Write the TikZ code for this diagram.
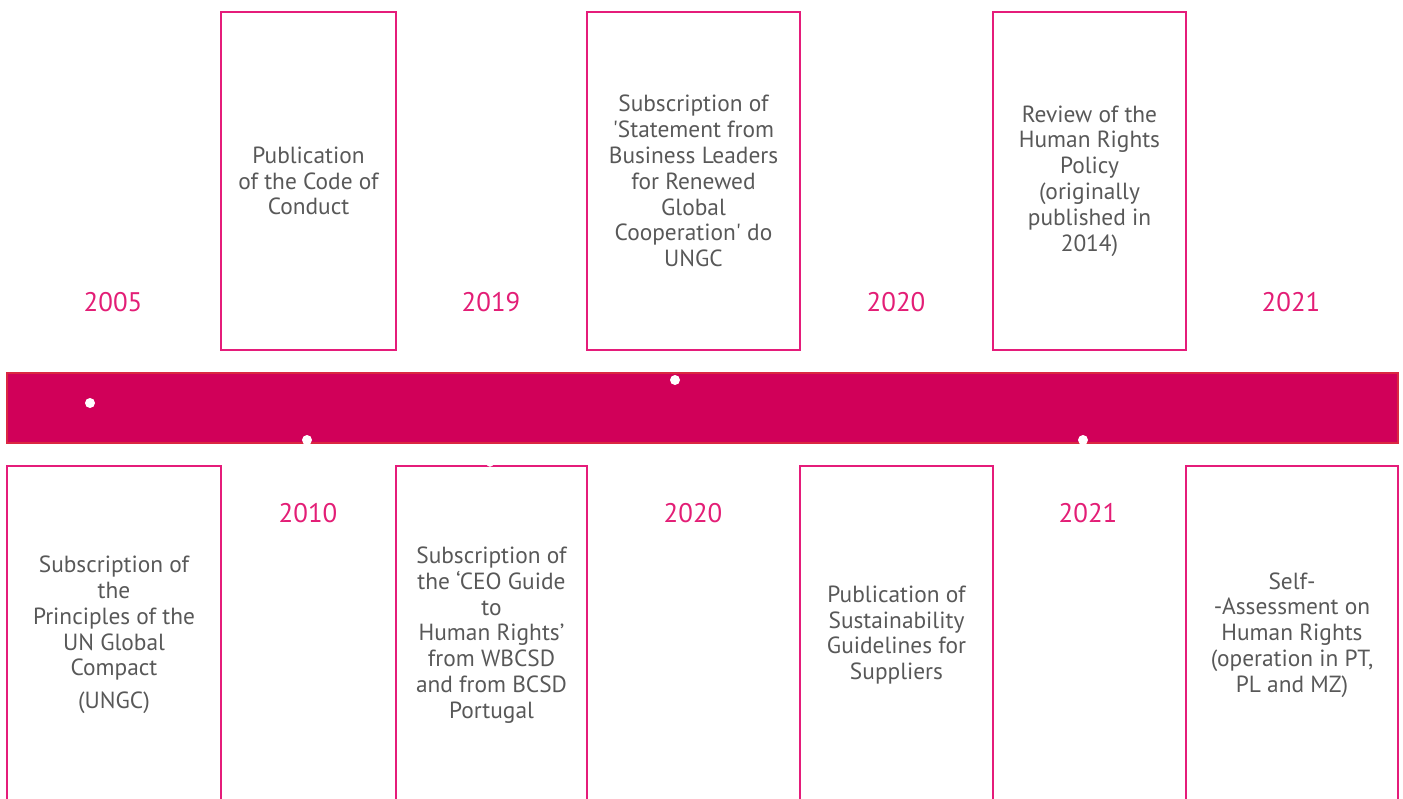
\documentclass[tikz,border=0pt]{standalone}
\usepackage{fontspec}
\setmainfont{PT Sans}
\usepackage{tikz}
\usetikzlibrary{positioning}
\definecolor{band}{RGB}{209,0,89}
\definecolor{bandedge}{RGB}{218,40,66}
\definecolor{frame}{RGB}{229,28,122}
\definecolor{yearpink}{RGB}{227,30,118}
\definecolor{txtgray}{RGB}{88,88,88}

\begin{document}
\begin{tikzpicture}[x=0.02cm, y=-0.02cm,
  every node/.style={font=\fontsize{13.3}{14.7}\selectfont, text=txtgray},
  event/.style={draw=frame, line width=1.4pt, align=center, minimum height=6.76cm, inner sep=0pt},
  year/.style={text=yearpink, font=\fontsize{15.3}{17}\selectfont},
  dot/.style={circle, fill=white, inner sep=0pt, minimum size=0.2cm}]
\useasboundingbox (0,0) rectangle (1403,798);
\clip (0,0) rectangle (1403,798);
% timeline band
\draw[fill=band, draw=bandedge, line width=1.1pt] (7,373) rectangle (1398,443);
\node[dot] (d2005) at (90,403) {};
\node[dot] (d2010) at (307,440) {};
\node[dot] (d2019) at (675,380) {};
\node[dot] (d2021) at (1083,440) {};
% top row
\node[event, minimum width=3.5cm] (code) at (308.5,181) {Publication\\of the Code of\\Conduct};
\node[event, minimum width=4.26cm] (statement) at (693.5,181) {Subscription of\\\textquotesingle Statement from\\Business Leaders\\for Renewed\\Global\\Cooperation\textquotesingle{} do\\UNGC};
\node[event, minimum width=3.86cm] (policy) at (1089.5,181) {Review of the\\Human Rights\\Policy\\(originally\\published in\\2014)};
% bottom row
\node[event, minimum width=4.28cm] (ungc) at (114,635) {Subscription of\\the\\Principles of the\\UN Global\\Compact\\[4pt](UNGC)};
\node[event, minimum width=3.82cm] (ceo) at (491.5,635) {Subscription of\\the ‘CEO Guide\\to\\Human Rights’\\from WBCSD\\and from BCSD\\Portugal};
\node[event, minimum width=3.86cm] (guide) at (896.5,635) {Publication of\\Sustainability\\Guidelines for\\Suppliers};
\node[event, minimum width=4.24cm] (selfassess) at (1292,635) {Self-\\-Assessment on\\Human Rights\\(operation in PT,\\PL and MZ)};
\node[dot, minimum size=0.15cm] (d2019b) at (490,463) {};
% years
\node[year] (y2005) at (113,302) {2005};
\node[year] (y2019) at (491,302) {2019};
\node[year] (y2020a) at (896,302) {2020};
\node[year] (y2021a) at (1291,302) {2021};
\node[year] (y2010) at (308,513) {2010};
\node[year] (y2020b) at (693,513) {2020};
\node[year] (y2021b) at (1088,513) {2021};
\end{tikzpicture}
\end{document}
